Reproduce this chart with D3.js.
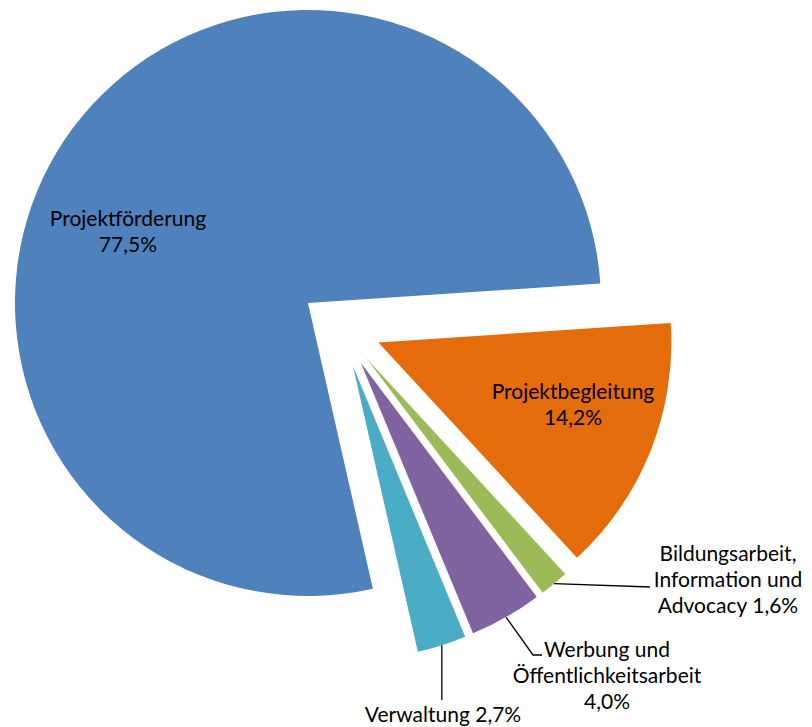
<!DOCTYPE html>
<html>
<head>
<meta charset="utf-8">
<script src="https://cdn.jsdelivr.net/npm/d3@7"></script>
<style>
  html, body { margin: 0; padding: 0; background: #fff; }
  svg text { font-family: Lato, "Open Sans", sans-serif; fill: #000; }
</style>
</head>
<body>
<div id="chart"></div>
<script>
// Ausgabenverteilung
const categories = ["Projektförderung", "Projektbegleitung", "Bildungsarbeit, Information und Advocacy", "Werbung und Öffentlichkeitsarbeit", "Verwaltung"];
const values = [77.5, 14.2, 1.6, 4.0, 2.7];
const colors = ["#4F81BD", "#E46C0A", "#9BBB59", "#8064A2", "#4BACC6"];

const fmt = v => v.toFixed(1).replace(".", ",") + "%";

// label text lines, one entry per slice
const labelLines = [
  ["Projektförderung", fmt(values[0])],
  ["Projektbegleitung", fmt(values[1])],
  ["Bildungsarbeit,", "Information und", "Advocacy " + fmt(values[2])],
  ["Werbung und", "Öffentlichkeitsarbeit", fmt(values[3])],
  ["Verwaltung " + fmt(values[4])]
];

const width = 812, height = 727;
const cx = 340.6, cy = 327.3;
const radius = 293;
const explode = 40.7;
const startDeg = 167.2;

const svg = d3.select("#chart")
  .append("svg")
  .attr("width", width)
  .attr("height", height);

const pie = d3.pie()
  .sort(null)
  .value(d => d)
  .startAngle(startDeg * Math.PI / 180)
  .endAngle(startDeg * Math.PI / 180 + 2 * Math.PI);

const arc = d3.arc().innerRadius(0).outerRadius(radius);
const arcs = pie(values);

const g = svg.append("g").attr("transform", `translate(${cx},${cy})`);

// offset of each exploded slice along its mid angle
const offset = (d, r) => {
  const a = (d.startAngle + d.endAngle) / 2;
  return [r * Math.sin(a), -r * Math.cos(a)];
};

g.selectAll("path.slice")
  .data(arcs)
  .enter()
  .append("path")
  .attr("class", "slice")
  .attr("d", arc)
  .attr("fill", (d, i) => colors[i])
  .attr("transform", d => {
    const [dx, dy] = offset(d, explode);
    return `translate(${dx},${dy})`;
  });

// label placement (center x, first baseline)
const labelPos = [
  { x: 128, y: 226 },
  { x: 573, y: 399 },
  { x: 728, y: 561 },
  { x: 607, y: 657 },
  { x: 443, y: 722 }
];
const lineH = 26;

// leader lines for the small slices (end points after the slice edge)
const leaders = [
  null,
  null,
  [[650, 587]],
  [[533, 655], [542, 655]],
  [["same", 700]]
];

arcs.forEach((d, i) => {
  if (!leaders[i]) return;
  const [ox, oy] = offset(d, radius + explode);
  const pts = [[cx + ox, cy + oy]];
  leaders[i].forEach(p => pts.push([p[0] === "same" ? cx + ox : p[0], p[1]]));
  svg.append("path")
    .attr("d", d3.line()(pts))
    .attr("fill", "none")
    .attr("stroke", "#000")
    .attr("stroke-width", 1.3);
});

labelLines.forEach((lines, i) => {
  const t = svg.append("text")
    .attr("text-anchor", "middle")
    .attr("font-size", "21px");
  lines.forEach((s, j) => {
    t.append("tspan")
      .attr("x", labelPos[i].x)
      .attr("y", labelPos[i].y + j * lineH)
      .text(s);
  });
});
</script>
</body>
</html>
